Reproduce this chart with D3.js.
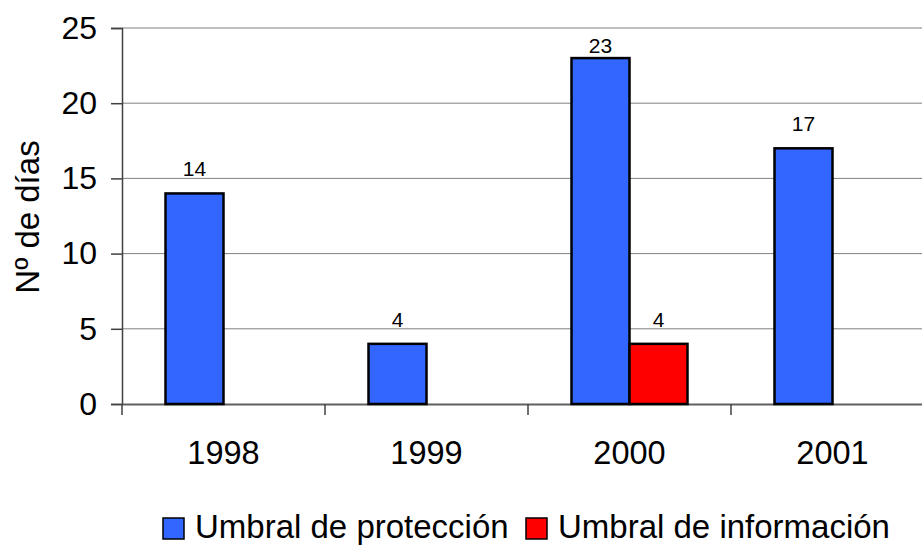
<!DOCTYPE html>
<head>
  <meta charset="utf-8">
  <script src="https://d3js.org/d3.v7.min.js"></script>
  <style>
  body { margin: 0; background: #fff; }
  text { font-family: "Liberation Sans", Arial, sans-serif; fill: #000; }
  .grid line { stroke: #808080; stroke-width: 1px; }
  .bar { stroke: #000; stroke-width: 2.5px; }
</style>
</head>
<body>
<svg width="922" height="545"></svg>

<script type="text/javascript">
// Data
var years = ["1998", "1999", "2000", "2001"];
var series = ["Umbral de protección", "Umbral de información"];
var proteccion = [14, 4, 23, 17];
var informacion = [0, 0, 4, 0];
var colors = ["#3366FF", "#FF0000"];
var yTicks = [0, 5, 10, 15, 20, 25];

var svg = d3.select("svg");

var x = d3.scaleBand().domain(years).range([122, 934]);
var sub = d3.scaleBand().domain(series).range([x.bandwidth() / 2 - 58, x.bandwidth() / 2 + 58]);
var y = d3.scaleLinear().domain([0, 25]).range([404, 28]);

// gridlines
svg.append("g").attr("class", "grid")
  .selectAll("line").data(yTicks.filter(function (d) { return d > 0; }))
  .enter().append("line")
    .attr("x1", 122).attr("x2", 922)
    .attr("y1", function (d) { return y(d); })
    .attr("y2", function (d) { return y(d); })
    .attr("stroke-width", function (d) { return d === 25 ? 2 : 1; });

// y axis
var yAxis = svg.append("g")
  .attr("transform", "translate(122,0)")
  .call(d3.axisLeft(y).tickValues(yTicks).tickSize(11).tickPadding(14));
yAxis.selectAll("text").style("font-size", "32px");
yAxis.selectAll("line, path").attr("stroke", "#404040").attr("stroke-width", 1.5);

// x axis
var xAxis = svg.append("g")
  .attr("transform", "translate(0,404)")
  .call(d3.axisBottom(x).tickSize(0).tickPadding(37));
xAxis.select(".domain").attr("stroke", "#606060").attr("stroke-width", 2);
xAxis.selectAll("text").style("font-size", "32.5px");
// category separators
svg.append("g").selectAll("line").data(years)
  .enter().append("line")
    .attr("x1", function (d) { return x(d); })
    .attr("x2", function (d) { return x(d); })
    .attr("y1", 404).attr("y2", 415)
    .attr("stroke", "#404040").attr("stroke-width", 1.5);

// axis title
svg.append("text")
  .attr("transform", "translate(39,217) rotate(-90)")
  .attr("text-anchor", "middle")
  .style("font-size", "33px")
  .text("Nº de días");

// bars
var rows = years.map(function (yr, i) {
  return [
    { year: yr, s: series[0], v: proteccion[i], c: colors[0] },
    { year: yr, s: series[1], v: informacion[i], c: colors[1] }
  ];
});
var items = [].concat.apply([], rows).filter(function (d) { return d.v > 0; });

svg.append("g").selectAll("rect").data(items)
  .enter().append("rect")
    .attr("class", "bar")
    .attr("x", function (d) { return x(d.year) + sub(d.s); })
    .attr("y", function (d) { return y(d.v); })
    .attr("width", sub.bandwidth())
    .attr("height", function (d) { return y(0) - y(d.v); })
    .attr("fill", function (d) { return d.c; });

// value labels, kept inside the plot area
svg.append("g").selectAll("text").data(items)
  .enter().append("text")
    .attr("x", function (d) { return x(d.year) + sub(d.s) + sub.bandwidth() / 2; })
    .attr("y", function (d) { return Math.max(y(d.v) - 17, y(25) + 25); })
    .attr("text-anchor", "middle")
    .style("font-size", "21px")
    .text(function (d) { return d.v; });

// legend
var legendX = [163, 526];
var legend = svg.append("g").selectAll("g").data(series)
  .enter().append("g")
    .attr("transform", function (d, i) { return "translate(" + legendX[i] + ",518)"; });
legend.append("rect")
  .attr("width", 21).attr("height", 21)
  .attr("fill", function (d, i) { return colors[i]; })
  .attr("stroke", "#000").attr("stroke-width", 1.5);
legend.append("text")
  .attr("x", 32).attr("y", 20)
  .style("font-size", "33px")
  .text(function (d) { return d; });
</script>

</body>
</html>
